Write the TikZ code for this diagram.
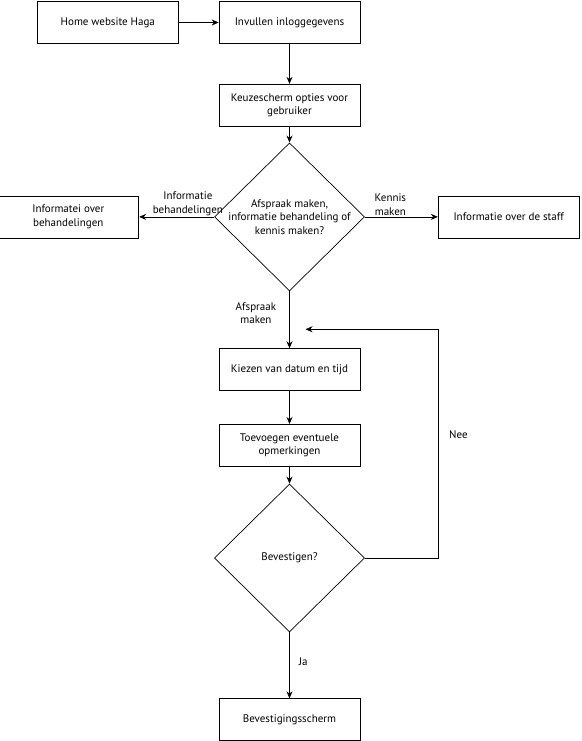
\documentclass[tikz,border=0pt]{standalone}
\usepackage{fontspec}
\setmainfont{PT Sans}
\usetikzlibrary{positioning, arrows.meta, shapes.geometric}

\begin{document}
\begin{tikzpicture}[
  x=1pt, y=-1pt,
  box/.style={rectangle, draw, line width=0.7pt, minimum width=141pt, minimum height=42pt, align=center, font=\fontsize{11}{13.5}\selectfont},
  choice/.style={diamond, draw, line width=0.7pt, minimum width=150pt, minimum height=148pt, inner sep=0pt},
  lbl/.style={align=center, inner sep=1pt, font=\fontsize{11}{13.5}\selectfont},
  node distance=40pt
]
\useasboundingbox (0,0) rectangle (581,741);
\node[box] (b2) at (289.5,22.5) {Invullen inloggegevens};
\node[box, left=of b2] (b1) {Home website Haga};
\node[box, below=of b2] (b3) {Keuzescherm opties voor\\gebruiker};
\node[choice, below=16pt of b3, label={[lbl]center:Afspraak maken,\\informatie behandeling of\\kennis maken?}] (d1) {};
\node[box, left=75pt of d1] (b4) {Informatei over\\behandelingen};
\node[box, right=73pt of d1] (b5) {Informatie over de staff};
\node[box, below=57pt of d1] (b6) {Kiezen van datum en tijd};
\node[box, below=33pt of b6] (b7) {Toevoegen eventuele\\opmerkingen};
\node[choice, below=17pt of b7, label={[lbl]center:Bevestigen?}] (d2) {};
\node[box, below=66pt of d2] (b8) {Bevestigingsscherm};
\coordinate[right=73pt of d2.east] (c1);
\coordinate[above right=19pt and 16pt of b6.north] (c2);

\begin{scope}[line width=0.7pt, -{Stealth[length=7pt, width=6pt]}]
\draw (b1) -- (b2);
\draw (b2) -- (b3);
\draw (b3) -- (d1);
\draw (d1) -- node[lbl, above, pos=0.35] {Informatie\\behandelingen} (b4);
\draw (d1) -- node[lbl, above, pos=0.35] {Kennis\\maken} (b5);
\draw (d1) -- node[lbl, left=12pt, pos=0.38] {Afspraak\\maken} (b6);
\draw (b6) -- (b7);
\draw (b7) -- (d2);
\draw (d2) -- node[lbl, right=8pt, pos=0.45] {Ja} (b8);
\draw (d2.east) -- (c1) -- node[lbl, right=10pt, pos=0.54] {Nee} (c1 |- c2) -- (c2);
\end{scope}
\end{tikzpicture}
\end{document}
